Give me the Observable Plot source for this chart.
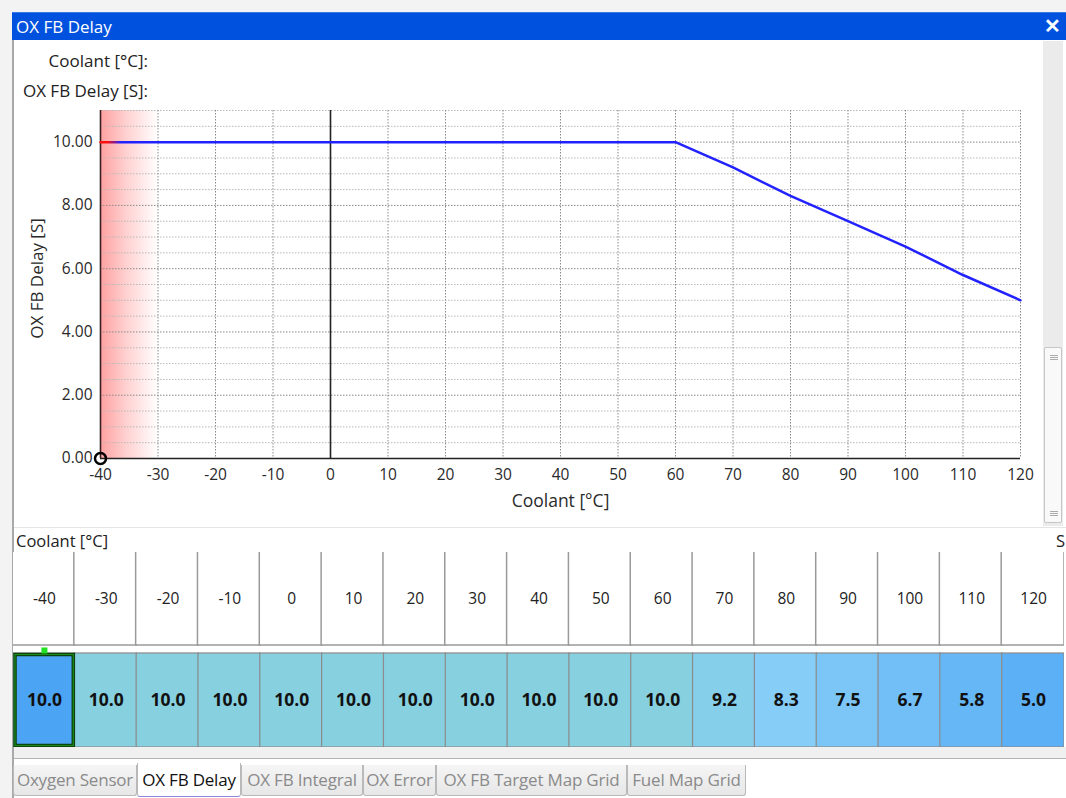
<!DOCTYPE html>
<html><head><meta charset="utf-8">
<script src="https://cdn.jsdelivr.net/npm/d3@7"></script>
<script src="https://cdn.jsdelivr.net/npm/@observablehq/plot@0.6"></script>
<style>
body{margin:0;width:1066px;height:798px;overflow:hidden;background:#f3f3f3;font-family:"Open Sans","Noto Sans",sans-serif;position:relative;color:#222;}
.abs{position:absolute;}
.tab{position:absolute;top:765px;height:31px;box-sizing:border-box;border:1px solid #b9b9b9;border-top:none;border-radius:0 0 3px 3px;background:linear-gradient(#f5f5f5,#e7e7e7);color:#8a8a8a;font-size:17px;line-height:29px;text-align:center;white-space:nowrap;overflow:hidden;letter-spacing:-0.2px;}
.tab.active{background:#fff;color:#111;top:763px;height:34px;border-bottom:1px solid #8a8adc;line-height:33px;}
.grip{position:absolute;left:5px;width:8px;height:1px;background:#aaa;}
</style></head><body>
<div class="abs" style="left:12px;top:12px;width:1054px;height:786px;background:#fff;border-left:2px solid #a9a9a9;box-sizing:border-box;"></div>
<div class="abs" style="left:12px;top:12px;width:1054px;height:28px;background:#0052de;color:#fff;font-size:17px;line-height:27px;padding-left:4px;box-sizing:border-box;border-top:1px solid #3a7ae8;">OX FB Delay<span style="position:absolute;right:5px;top:-1px;font-size:20px;font-weight:bold;">✕</span></div>
<div class="abs" id="lblX" style="right:918px;top:50px;font-size:17px;line-height:22px;white-space:nowrap;"></div>
<div class="abs" id="lblY" style="right:918px;top:80px;font-size:17px;line-height:22px;white-space:nowrap;"></div>
<div class="abs" id="chart" style="left:0;top:100px;"></div>
<!-- scrollbar -->
<div class="abs" style="left:1043px;top:41px;width:20px;height:485px;background:#ebebeb;"></div>
<div class="abs" style="left:1044px;top:347px;width:18px;height:176px;background:#f9f9f9;border:1px solid #c6c6c6;border-radius:2px;box-sizing:border-box;">
  <div class="grip" style="top:7px"></div><div class="grip" style="top:9px"></div><div class="grip" style="top:11px"></div>
  <div class="grip" style="top:163px"></div><div class="grip" style="top:165px"></div><div class="grip" style="top:167px"></div>
</div>
<div class="abs" style="left:14px;top:527px;width:1052px;height:1px;background:#e4e4e4;"></div>
<div class="abs" id="tblLabel" style="left:16px;top:530px;font-size:16.5px;line-height:22px;white-space:nowrap;"></div>
<div class="abs" style="left:1056px;top:530px;font-size:16.5px;line-height:22px;">S</div>
<div class="abs" id="hdr" style="left:13px;top:552px;width:1051px;height:94px;overflow:hidden;"></div>
<div class="abs" id="vals" style="left:13px;top:646px;width:1051px;height:101px;overflow:hidden;"></div>
<div class="abs" style="left:14px;top:747px;width:1052px;height:11px;background:#f0f0f0;border-bottom:1px solid #b4b4b4;"></div>
<div id="tabs"></div>
<script>
// ---- data ----
const coolant = [-40, -30, -20, -10, 0, 10, 20, 30, 40, 50, 60, 70, 80, 90, 100, 110, 120];
const delay   = [10.0, 10.0, 10.0, 10.0, 10.0, 10.0, 10.0, 10.0, 10.0, 10.0, 10.0, 9.2, 8.3, 7.5, 6.7, 5.8, 5.0];
const xTicks = [-40, -30, -20, -10, 0, 10, 20, 30, 40, 50, 60, 70, 80, 90, 100, 110, 120];
const yTicks = [0, 2, 4, 6, 8, 10];
const yMinor = [0.5, 1, 1.5, 2.5, 3, 3.5, 4.5, 5, 5.5, 6.5, 7, 7.5, 8.5, 9, 9.5, 10.5, 11];
const warnZone = [{from: -40, to: -30}];
const cursor = [{c: -40, v: 0}];
const selectedIndex = 0;
const xLabel = "Coolant [°C]";
const yLabel = "OX FB Delay [S]";
const tabNames = ["Oxygen Sensor", "OX FB Delay", "OX FB Integral", "OX Error", "OX FB Target Map Grid", "Fuel Map Grid"];
const activeTab = 1;

document.getElementById("lblX").textContent = xLabel + ":";
document.getElementById("lblY").textContent = yLabel + ":";
document.getElementById("tblLabel").textContent = xLabel;

const rows = coolant.map((c, i) => ({c, v: delay[i]}));
const FONT = '"Open Sans","Noto Sans",sans-serif';

// ---- main chart ----
const chart = Plot.plot({
  width: 1040, height: 425,
  marginLeft: 100, marginRight: 20, marginTop: 10, marginBottom: 67,
  style: {background: "transparent", fontFamily: FONT, fontSize: "15.5px", color: "#2a2a2a", overflow: "visible"},
  x: {domain: [-40, 120], ticks: xTicks, tickSize: 0, tickPadding: 10, tickFormat: d => String(d), label: null},
  y: {domain: [0, 11], ticks: yTicks, tickSize: 0, tickPadding: 8, tickFormat: d3.format(".2f"), label: null},
  marks: [
    Plot.rect(warnZone, {x1: "from", x2: "to", y1: 0, y2: 11, fill: "url(#warnGrad)"}),
    Plot.ruleY(yMinor, {stroke: "#b8b8b8", strokeDasharray: "1.5,1.5"}),
    Plot.ruleY(yTicks.filter(d => d > 0), {stroke: "#8a8a8a", strokeDasharray: "1.5,1.5"}),
    Plot.ruleX(xTicks.filter(d => d > -40 && d !== 0), {stroke: "#8a8a8a", strokeDasharray: "1.5,1.5"}),
    Plot.ruleX([0], {stroke: "#222", strokeWidth: 1.6}),
    Plot.ruleX([-40], {stroke: "#3a2020", strokeWidth: 1.6}),
    Plot.ruleY([0], {stroke: "#222", strokeWidth: 1.6}),
    Plot.line(rows, {x: "c", y: "v", stroke: "url(#lineGrad)", strokeWidth: 2.5}),
    Plot.dot(cursor, {x: "c", y: "v", r: 5.5, stroke: "#000", strokeWidth: 2.5, fill: "none"}),
    Plot.text([xLabel], {text: d => d, frameAnchor: "bottom", dy: 48, fontSize: 17.5, fill: "#2a2a2a"}),
    Plot.text([yLabel], {text: d => d, frameAnchor: "left", textAnchor: "middle", dx: -63, dy: -6, rotate: -90, fontSize: 17, fill: "#2a2a2a"})
  ]
});
const defs = d3.select(chart).insert("defs", ":first-child");
const wg = defs.append("linearGradient").attr("id", "warnGrad").attr("x1", 0).attr("x2", 1).attr("y1", 0).attr("y2", 0);
wg.append("stop").attr("offset", 0).attr("stop-color", "#ffa0a0");
wg.append("stop").attr("offset", 0.45).attr("stop-color", "#ffd0d0");
wg.append("stop").attr("offset", 1).attr("stop-color", "#ffffff");
const lg = defs.append("linearGradient").attr("id", "lineGrad").attr("gradientUnits", "userSpaceOnUse").attr("x1", 100).attr("x2", 120).attr("y1", 0).attr("y2", 0);
lg.append("stop").attr("offset", 0).attr("stop-color", "#ff1010");
lg.append("stop").attr("offset", 0.35).attr("stop-color", "#ff1010");
lg.append("stop").attr("offset", 1).attr("stop-color", "#2222ff");
document.getElementById("chart").append(chart);

// ---- table header ----
const hdr = Plot.plot({
  width: 1051, height: 94, margin: 0,
  style: {background: "#fff", fontFamily: FONT, overflow: "hidden"},
  x: {type: "band", domain: coolant, padding: 0, round: false, axis: null},
  marks: [
    Plot.cell(coolant, {x: d => d, fill: "#fff", stroke: "#9a9a9a", strokeWidth: 1.5, insetTop: -4, insetLeft: -1, insetBottom: 1}),
    Plot.text(coolant, {x: d => d, text: d => String(d), fontSize: 15.5, fill: "#222"})
  ]
});
document.getElementById("hdr").append(hdr);

// ---- table values ----
const vals = Plot.plot({
  width: 1051, height: 101, marginTop: 7, marginBottom: 0, marginLeft: 0, marginRight: 0,
  style: {background: "#fff", fontFamily: FONT, overflow: "hidden"},
  x: {type: "band", domain: coolant, padding: 0, round: false, axis: null},
  color: {type: "linear", domain: [5, 8.3, 10], range: ["#5cb0f5", "#86cdf8", "#86d0e0"]},
  marks: [
    Plot.cell(rows, {x: "c", fill: "v", stroke: "#8c8c8c", strokeWidth: 1.2, insetLeft: -0.5}),
    Plot.cell([rows[selectedIndex]], {x: "c", fill: "#4ca4f5", stroke: "#0a3d0a", strokeWidth: 3.5, insetLeft: 2, insetRight: 1.5, insetTop: 1.5, insetBottom: 1.5}),
    Plot.cell([rows[selectedIndex]], {x: "c", fill: "none", stroke: "#1c8a1c", strokeWidth: 1.2, insetLeft: 2, insetRight: 1.5, insetTop: 1.5, insetBottom: 1.5}),
    Plot.dot([rows[selectedIndex]], {x: "c", frameAnchor: "top", dy: -3, symbol: "square", r: 3.4, fill: "#22e022"}),
    Plot.text(rows, {x: "c", text: d => d.v.toFixed(1), fontSize: 17.5, fontWeight: "bold", fill: "#111"})
  ]
});
document.getElementById("vals").append(vals);

// ---- tabs ----
const tabX = [13, 137, 241, 363, 436, 627, 746];
const tabsEl = document.getElementById("tabs");
tabNames.forEach((t, i) => {
  const d = document.createElement("div");
  d.className = "tab" + (i === activeTab ? " active" : "");
  d.style.left = tabX[i] + "px";
  d.style.width = (tabX[i + 1] - tabX[i]) + "px";
  d.textContent = t;
  tabsEl.append(d);
});
</script>
</body></html>
